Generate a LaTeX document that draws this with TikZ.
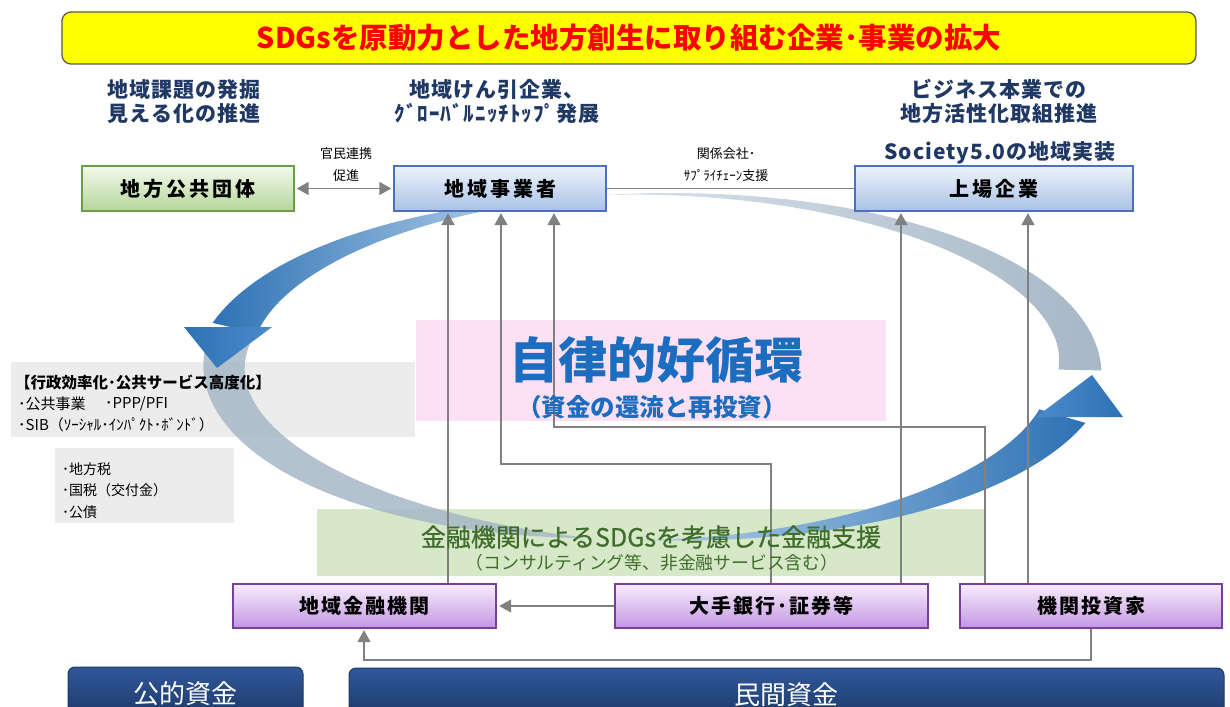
\documentclass[tikz,border=0pt]{standalone}
\usepackage{fontspec}
\setmainfont{Noto Sans CJK JP}
\newfontfamily\medfont{Noto Sans CJK JP}[FakeBold=0.6]
\usetikzlibrary{arrows.meta}
\definecolor{navy}{HTML}{1F3864}
\definecolor{lgray}{HTML}{808080}
\definecolor{bboxT}{HTML}{EEF3FB}
\definecolor{bboxB}{HTML}{A9C1E6}
\definecolor{bboxD}{HTML}{4A70BE}
\definecolor{gboxT}{HTML}{F3F9EC}
\definecolor{gboxB}{HTML}{B5D69A}
\definecolor{gboxD}{HTML}{6C9E45}
\definecolor{pboxT}{HTML}{F7EDFC}
\definecolor{pboxB}{HTML}{C396E2}
\definecolor{pboxD}{HTML}{7A3E9E}
\definecolor{pinkbg}{HTML}{FCE1F5}
\definecolor{greenbg}{HTML}{D7E8C8}
\definecolor{graybg}{HTML}{ECECEC}
\definecolor{bigblue}{HTML}{1C6DC0}
\definecolor{greentext}{HTML}{3F6D2B}
\definecolor{barT}{HTML}{2F5899}
\definecolor{barB}{HTML}{1D3767}
\definecolor{arrowdark}{HTML}{2E72B4}
\definecolor{arrowmid}{HTML}{4B8BCB}
\definecolor{arrowlight}{HTML}{C6DDF1}
\definecolor{arrowstart}{HTML}{B3D0EA}
\definecolor{bandgray}{HTML}{A7B7C6}
\definecolor{bandlight}{HTML}{DAE3EC}
\definecolor{titleyellow}{HTML}{FFFF00}
\definecolor{titlered}{HTML}{FF0000}
\definecolor{titleborder}{HTML}{595959}
\begin{document}
\begin{tikzpicture}[x=1pt,y=-1pt,
  headtext/.style={text=navy, align=center, font=\fontsize{21}{23.5}\selectfont\bfseries\addfontfeatures{LetterSpace=5}, inner sep=0pt},
  smalllab/.style={align=center, font=\fontsize{13}{22}\selectfont, inner sep=0pt},
  bluebox/.style={draw=bboxD, line width=1.4pt, top color=bboxT, bottom color=bboxB, minimum height=45pt, inner sep=0pt,
     font=\fontsize{20}{24}\selectfont\bfseries\addfontfeatures{LetterSpace=15}},
  greenbox/.style={bluebox, draw=gboxD, top color=gboxT, bottom color=gboxB},
  purplebox/.style={draw=pboxD, line width=1.4pt, top color=pboxT, bottom color=pboxB, minimum height=44pt, inner sep=0pt,
     font=\fontsize{20}{24}\selectfont\bfseries\addfontfeatures{LetterSpace=10}},
  barbox/.style={draw=barB, line width=1pt, top color=barT, bottom color=barB, rounded corners=7pt, text=white,
     minimum height=53pt, inner sep=0pt, font=\fontsize{26}{30}\selectfont},
  graytext/.style={anchor=west, inner sep=0pt, font=\fontsize{15}{18}\selectfont},
  graytextb/.style={anchor=west, inner sep=0pt, font=\fontsize{14}{17}\selectfont},
  conn/.style={draw=lgray, line width=1.6pt, -{Triangle[width=13pt,length=12pt]}, shorten >=1.5pt},
  biconn/.style={draw=lgray, line width=1.6pt, {Triangle[width=13pt,length=12pt]}-{Triangle[width=13pt,length=12pt]}, shorten >=2pt, shorten <=2pt},
  plainconn/.style={draw=lgray, line width=1.6pt}
]
\useasboundingbox (0,0) rectangle (1230,706);
\clip (0,0) rectangle (1230,706);
\fill[white] (0,0) rectangle (1230,706);

% background panels
\fill[graybg] (11,362) rectangle (415,437);
\fill[graybg] (55,448) rectangle (234,523);
\fill[pinkbg] (416,320) rectangle (886,421);
\fill[greenbg] (317,509) rectangle (984,576);

% title
\node[draw=titleborder, line width=1.3pt, fill=titleyellow, rounded corners=9pt, text=titlered,
      minimum width=1134pt, minimum height=52pt, inner sep=0pt, font=\fontsize{28.5}{30}\selectfont\bfseries]
      (title) at (629,38) {SDGsを原動力とした地方創生に取り組む企業･事業の拡大};

% upper-right gray band
\shade[left color=bandlight, right color=bandgray]
  plot[domain=97:-1, samples=60, variable=\t]
   ({652+(428+21.5*((97-\t)/98)*(0.5+0.5*(97-\t)/98))*cos(\t)},
    {367-(173+21.5*((97-\t)/98)*(0.5+0.5*(97-\t)/98))*sin(\t)})
  -- plot[domain=-1:97, samples=60, variable=\t]
   ({652+(428-21.5*((97-\t)/98)*(0.5+0.5*(97-\t)/98))*cos(\t)},
    {367-(173-21.5*((97-\t)/98)*(0.5+0.5*(97-\t)/98))*sin(\t)})
  -- cycle;

% lower-left gray band
\fill[bandgray, opacity=0.85]
  plot[domain=170:262, samples=60, variable=\t]
   ({652+(428+21*cos(90*(\t-170)/92))*cos(\t)},
    {367-(173+21*cos(90*(\t-170)/92))*sin(\t)})
  -- plot[domain=262:170, samples=60, variable=\t]
   ({652+(428-21*cos(90*(\t-170)/92))*cos(\t)},
    {367-(173-21*cos(90*(\t-170)/92))*sin(\t)})
  -- cycle;

% left blue arrow
\shade[left color=arrowdark, right color=arrowlight]
  plot[domain=102:167, samples=50, variable=\t]
   ({652+(428+23*((\t-95)/72)*(0.4+0.6*(\t-95)/72))*cos(\t)}, {367-(173+23*((\t-95)/72)*(0.4+0.6*(\t-95)/72))*sin(\t)})
  -- plot[domain=167:102, samples=50, variable=\t]
   ({652+(428-23*((\t-95)/72)*(0.4+0.6*(\t-95)/72))*cos(\t)}, {367-(173-23*((\t-95)/72)*(0.4+0.6*(\t-95)/72))*sin(\t)})
  -- cycle;
\shade[left color=arrowdark, right color=arrowmid] (184,327) -- (272,327) -- (217,368) -- cycle;

% right blue arrow
\shade[left color=arrowstart, right color=arrowdark]
  plot[domain=268:343.5, samples=50, variable=\t]
   ({652+(428+24*((\t-268)/75.5)*(0.5+0.5*(\t-268)/75.5))*cos(\t)},
    {367-(173+24*((\t-268)/75.5)*(0.5+0.5*(\t-268)/75.5))*sin(\t)})
  -- plot[domain=343.5:268, samples=50, variable=\t]
   ({652+(428-24*((\t-268)/75.5)*(0.5+0.5*(\t-268)/75.5))*cos(\t)},
    {367-(173-24*((\t-268)/75.5)*(0.5+0.5*(\t-268)/75.5))*sin(\t)})
  -- cycle;
\shade[left color=arrowmid, right color=arrowdark] (1036,417) -- (1123,417) -- (1092,375) -- cycle;

% boxes
\node[greenbox, minimum width=212pt] (chiho) at (188,188.5) {地方公共団体};
\node[bluebox, minimum width=212pt] (jigyo) at (500,188.5) {地域事業者};
\node[bluebox, minimum width=278pt] (jojo) at (994,188.5) {上場企業};
\node[purplebox, minimum width=263pt] (kinyu) at (364.5,606) {地域金融機関};
\node[purplebox, minimum width=313pt] (daite) at (771.5,606) {大手銀行･証券等};
\node[purplebox, minimum width=262pt] (kikan) at (1091,606) {機関投資家};
\node[barbox, minimum width=235pt] (kouteki) at (185.5,693.5) {公的資金};
\node[barbox, minimum width=875pt] (minkan) at (786.5,694.5) {民間資金};

% connector coordinates
\coordinate (c448) at (448,0);
\coordinate (b2r) at (771,464);
\coordinate (b2l) at (501,464);
\coordinate (b3r) at (985,427);
\coordinate (b3l) at (554,427);
\coordinate (c901) at (901,0);
\coordinate (c1028) at (1028,0);
\coordinate (b7r) at (1091,660);
\coordinate (b7l) at (364,660);

% connectors
\draw[biconn] (chiho.east) -- (jigyo.west);
\draw[plainconn] (jigyo.east) -- (jojo.west);
\draw[conn] (kinyu.north -| c448) -- (jigyo.south -| c448);
\draw[conn] (daite.north -| b2r) -- (b2r) -- (b2l) -- (jigyo.south -| b2l);
\draw[conn] (kikan.north -| b3r) -- (b3r) -- (b3l) -- (jigyo.south -| b3l);
\draw[conn] (daite.north -| c901) -- (jojo.south -| c901);
\draw[conn] (kikan.north -| c1028) -- (jojo.south -| c1028);
\draw[conn, shorten >=2.5pt] (daite.west) -- (kinyu.east);
\draw[conn] (kikan.south -| b7r) -- (b7r) -- (b7l) -- (kinyu.south -| b7l);

% headings
\node[headtext] (h1) at (184,101.5) {地域課題の発掘\\見える化の推進};
\node[headtext] (h2) at (497,101.5) {地域けん引企業、\\ｸﾞﾛｰﾊﾞﾙﾆｯﾁﾄｯﾌﾟ発展};
\node[headtext] (h3) at (999,101.5) {ビジネス本業での\\地方活性化取組推進};
\node[headtext] (h4) at (1000,153) {Society5.0の地域実装};
\node[smalllab] (lab1) at (346,165) {官民連携\\促進};
\node[smalllab] (lab2) at (726,165) {関係会社･\\ｻﾌﾟﾗｲﾁｪｰﾝ支援};

% gray panel texts
\node[graytext, font=\fontsize{15.5}{18}\selectfont\bfseries] (g1a) at (15,383) {【行政効率化･公共サービス高度化】};
\node[graytext] (g1b) at (18,404) {･公共事業};
\node[graytext] (g1c) at (105,404) {･PPP/PFI};
\node[graytext] (g1d) at (18,425) {･SIB（ｿｰｼｬﾙ･ｲﾝﾊﾟｸﾄ･ﾎﾞﾝﾄﾞ）};
\node[graytextb] (g2a) at (62,469) {･地方税};
\node[graytextb] (g2b) at (62,490) {･国税（交付金）};
\node[graytextb] (g2c) at (62,512) {･公債};

% central texts
\node[text=bigblue, inner sep=0pt, font=\fontsize{49}{52}\selectfont\bfseries] (jiritsu) at (656,360) {自律的好循環};
\node[text=bigblue, inner sep=0pt, font=\fontsize{24.5}{26}\selectfont\bfseries] (shikin) at (652,407) {（資金の還流と再投資）};
\node[text=greentext, inner sep=0pt, font=\fontsize{25}{28}\medfont] (kinyusien) at (651,537) {金融機関によるSDGsを考慮した金融支援};
\node[text=greentext, inner sep=0pt, font=\fontsize{17.8}{20}\selectfont] (consul) at (652,563) {（コンサルティング等、非金融サービス含む）};
\end{tikzpicture}
\end{document}
